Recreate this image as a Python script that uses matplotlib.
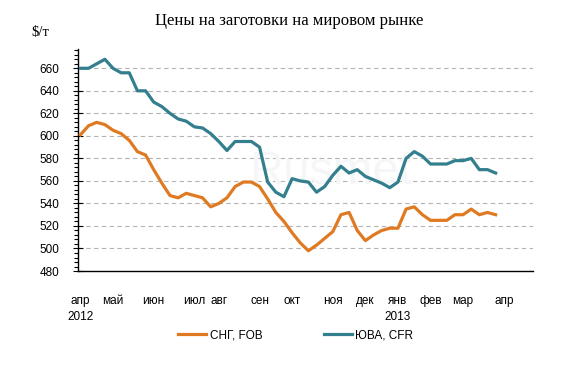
import numpy as np
import matplotlib.pyplot as plt
from matplotlib.ticker import MultipleLocator

# weekly prices, $/t, April 2012 .. March 2013
cis_fob = [601, 609, 612, 610, 605, 602, 596, 586, 583, 570, 558, 547, 545, 549,
           547, 545, 537, 540, 545, 555, 559, 559, 555, 544, 532, 524, 514, 505,
           498, 503, 509, 515, 530, 532, 516, 507, 512, 516, 518, 518, 535, 537,
           530, 525, 525, 525, 530, 530, 535, 530, 532, 530]
sea_cfr = [660, 660, 664, 668, 660, 656, 656, 640, 640, 630, 626, 620, 615, 613,
           608, 607, 602, 595, 587, 595, 595, 595, 590, 559, 550, 546, 562, 560,
           559, 550, 555, 565, 573, 567, 570, 564, 561, 558, 554, 559, 580, 586,
           582, 575, 575, 575, 578, 578, 580, 570, 570, 567]

# week index where each month label sits
month_pos = [0, 4, 9, 14, 17, 22, 26, 31, 35, 39, 43, 47, 52]
month_labels = ["апр\n2012", "май", "июн", "июл", "авг", "сен", "окт",
                "ноя", "дек", "янв\n2013", "фев", "мар", "апр"]

ORANGE = "#E07A22"
TEAL = "#337F8E"

fig = plt.figure(figsize=(5.79, 3.78), dpi=100)
ax = fig.add_axes([0.1347, 0.283, 0.786, 0.587])

x = np.arange(len(cis_fob))
ax.plot(x, cis_fob, color=ORANGE, lw=2.3, solid_joinstyle="round", zorder=3)
ax.plot(x, sea_cfr, color=TEAL, lw=2.3, solid_joinstyle="round", zorder=3)

# faint watermark behind the lines
ax.text(0.57, 0.545, "Rusmet", fontsize=34, color="#f5f6f7",
        family="Liberation Sans", ha="center", va="center", zorder=1,
        transform=fig.transFigure)

ax.set_xlim(-0.3, 55.6)
ax.set_ylim(480, 677)
ax.yaxis.set_minor_locator(MultipleLocator(4))
ax.set_yticks(np.arange(480, 661, 20))
ax.grid(axis="y", color="#b4b4b4", ls=(0, (4, 3)), lw=0.8)
ax.set_axisbelow(True)

ax.set_xticks(month_pos)
ax.set_xticklabels(month_labels, fontsize=8.5, family="Liberation Sans",
                   linespacing=1.45, va="top")
ax.tick_params(axis="x", length=0, pad=17)
ax.tick_params(axis="y", which="major", direction="inout", length=7, width=0.8,
               labelsize=8.5, pad=10)
ax.tick_params(axis="y", which="minor", direction="out", length=3, width=0.8)
for lab in ax.get_yticklabels():
    lab.set_family("Liberation Sans")

for s in ["top", "right"]:
    ax.spines[s].set_visible(False)
ax.spines["left"].set_linewidth(1.0)
ax.spines["bottom"].set_linewidth(1.0)

fig.text(0.5, 0.945, "Цены на заготовки на мировом рынке", ha="center",
         va="center", fontsize=12, family="Liberation Serif")
fig.text(0.055, 0.913, "$/т", ha="left", va="center", fontsize=10.5,
         family="Liberation Serif")

# legend
ax.legend(["СНГ, FOB", "ЮВА, CFR"], loc="upper center",
          bbox_to_anchor=(0.478, -0.215), ncol=2, frameon=False,
          handlelength=2.4, handletextpad=0.3, columnspacing=5.2,
          prop={"family": "Liberation Sans", "size": 8.5})

fig.savefig("out.png", dpi=100)
